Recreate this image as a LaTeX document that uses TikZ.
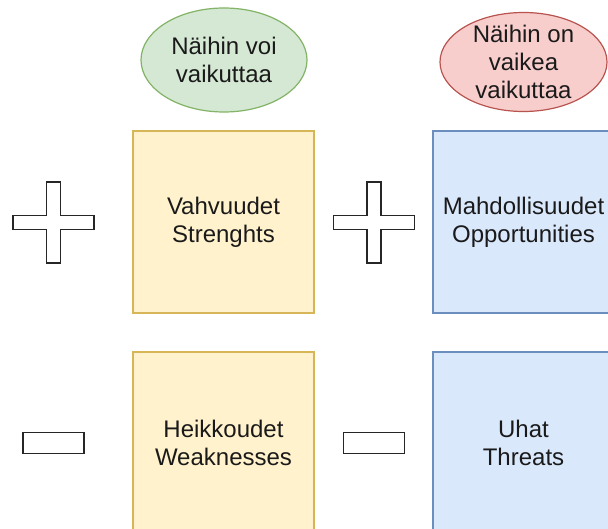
\documentclass[tikz,border=0pt]{standalone}
\usepackage{fontspec}
\setmainfont{Liberation Sans}
\usepackage{tikz}
\usetikzlibrary{shapes.geometric}
\definecolor{SwotYellow}{HTML}{FFF2CC}
\definecolor{SwotYellowLine}{HTML}{D6B656}
\definecolor{SwotBlue}{HTML}{DAE8FC}
\definecolor{SwotBlueLine}{HTML}{6C8EBF}
\definecolor{SwotGreen}{HTML}{D5E8D4}
\definecolor{SwotGreenLine}{HTML}{82B366}
\definecolor{SwotRed}{HTML}{F8CECC}
\definecolor{SwotRedLine}{HTML}{B85450}
\definecolor{SwotDark}{HTML}{1A1A1A}
\tikzset{
  swottext/.style={align=center,text=SwotDark,font=\fontsize{24}{28}\selectfont},
  swotbox/.style={swottext,draw,line width=1.3pt,inner sep=0pt,minimum width=181pt,minimum height=182pt},
  swotcloud/.style={ellipse,draw,line width=1.2pt,inner sep=0pt},
  signline/.style={draw=black!85,fill=white,line width=1.8pt,line join=miter},
  plussign/.pic={\path[signline] (-7,-40.5) -- (7,-40.5) -- (7,-7) -- (40.5,-7) -- (40.5,7) -- (7,7) -- (7,40.5) -- (-7,40.5) -- (-7,7) -- (-40.5,7) -- (-40.5,-7) -- (-7,-7) -- cycle;},
  minussign/.style={signline,rectangle,inner sep=0pt,minimum width=61pt,minimum height=21pt}
}

\begin{document}
\begin{tikzpicture}[x=1pt,y=-1pt]
\clip (0,0) rectangle (608,529);
% ellipses on top
\node[swotcloud,fill=SwotGreen,draw=SwotGreenLine,minimum width=166pt,minimum height=104pt] (canAffect) at (224,60) {};
\node[swottext] (canAffectText) at (canAffect.center) {Näihin voi\\vaikuttaa};
\node[swotcloud,fill=SwotRed,draw=SwotRedLine,minimum width=167pt,minimum height=99pt] (hardAffect) at (523.5,62) {};
\node[swottext] (hardAffectText) at (hardAffect.center) {Näihin on\\vaikea\\vaikuttaa};
% the four boxes
\node[swotbox,fill=SwotYellow,draw=SwotYellowLine] (strengths) at (223.5,222) {Vahvuudet\\Strenghts};
\node[swotbox,fill=SwotYellow,draw=SwotYellowLine] (weaknesses) at (223.5,443) {Heikkoudet\\Weaknesses};
\node[swotbox,fill=SwotBlue,draw=SwotBlueLine] (opportunities) at (523.5,222) {Mahdollisuudet\\Opportunities};
\node[swotbox,fill=SwotBlue,draw=SwotBlueLine] (threats) at (523.5,443) {Uhat\\Threats};
% plus and minus signs
\pic at (53.5,222.5) {plussign};
\pic at (374,222.5) {plussign};
\node[minussign] (minusLeft) at (53.5,443) {};
\node[minussign] (minusRight) at (374,443) {};
\end{tikzpicture}
\end{document}
